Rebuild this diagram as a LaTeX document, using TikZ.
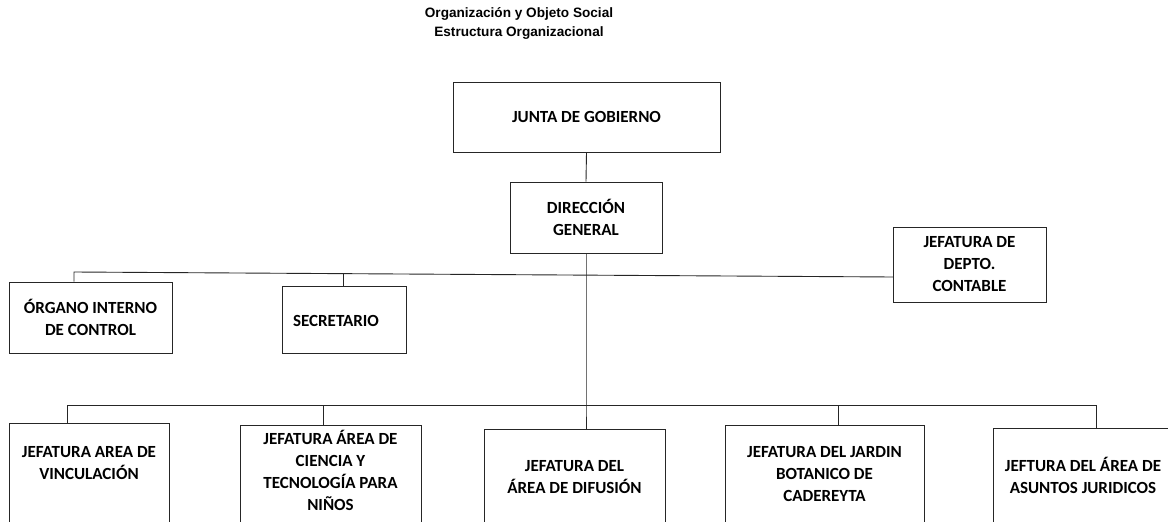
\documentclass[tikz,border=0pt]{standalone}
\usepackage{fontspec}
\setmainfont{Carlito}
\newfontfamily\titlefont{Liberation Sans}
\usetikzlibrary{calc}
\begin{document}
\begin{tikzpicture}[x=1pt,y=-1pt,
  box/.style={draw=black!85, line width=0.9pt, inner sep=0pt, align=center,
    font=\bfseries\fontsize{17}{22}\selectfont},
  txt/.style={inner sep=0pt, align=center, font=\bfseries\fontsize{17}{22}\selectfont},
  conn/.style={draw=black!85, line width=0.9pt},
  ttl/.style={inner sep=0pt, align=center, font=\titlefont\bfseries\fontsize{13.6}{19}\selectfont}]
\useasboundingbox (0,0) rectangle (1168,522);
\clip (0,0) rectangle (1168,522);

\node[ttl] (title) at (519,23.5) {Organización y Objeto Social\\Estructura Organizacional};

% top boxes
\node[box, minimum width=267, minimum height=70] (junta) at (586.5,117) {JUNTA DE GOBIERNO};
\node[box, minimum width=152, minimum height=71] (dir) at (586,217.5) {DIRECCIÓN\\GENERAL};
\node[box, minimum width=163, minimum height=71] (organo) at (90.5,317.5) {ÓRGANO INTERNO\\DE CONTROL};
\node[box, minimum width=124, minimum height=67] (secr) at (344,319.5) {};
\node[txt] (secr-t) at (336,321) {SECRETARIO};
\node[box, minimum width=153, minimum height=75] (cont) at (969.5,264.5) {JEFATURA DE\\DEPTO.\\CONTABLE};

% bottom boxes (cut by the page edge)
\node[box, minimum width=160, minimum height=140] (vinc) at (89,493) {};
\node[box, minimum width=181, minimum height=140] (cien) at (330.5,495) {};
\node[box, minimum width=181, minimum height=140] (difu) at (574.5,499) {};
\node[box, minimum width=199, minimum height=140] (jard) at (824.5,495) {};
\node[box, minimum width=180, minimum height=140] (asun) at (1083,498) {};

\node[txt] (vinc-t) at (89,463) {JEFATURA AREA DE\\VINCULACIÓN};
\node[txt] (cien-t) at (330.5,470.5) {JEFATURA ÁREA DE\\CIENCIA Y\\TECNOLOGÍA PARA\\NIÑOS};
\node[txt] (difu-t) at (574.5,477) {JEFATURA DEL\\ÁREA DE DIFUSIÓN};
\node[txt] (jard-t) at (824.5,474) {JEFATURA DEL JARDIN\\BOTANICO DE\\CADEREYTA};
\node[txt] (asun-t) at (1083,475.5) {JEFTURA DEL ÁREA DE\\ASUNTOS JURIDICOS};

% connectors
\coordinate (ubL) at (74,272);
\coordinate (ubR) at (893,277);
\coordinate (usec) at ($(ubL)!0.3284!(ubR)$);
\coordinate (bbL) at (67,405);
\coordinate (bbR) at (1096,405);
\coordinate (bcien) at (323,405);
\coordinate (bjard) at (838,405);

\draw[conn] (junta.south) -- (dir.north);
\draw[conn] (dir.south) -- (dir.south |- bbL) -- (dir.south |- difu.north);
\draw[conn] (ubL |- organo.north) -- (ubL) -- (ubR);
\draw[conn] (usec) -- (usec |- secr.north);
\draw[conn] (bbL |- vinc.north) -- (bbL) -- (bbR) -- (bbR |- asun.north);
\draw[conn] (bcien) -- (bcien |- cien.north);
\draw[conn] (bjard) -- (bjard |- jard.north);
\end{tikzpicture}
\end{document}
